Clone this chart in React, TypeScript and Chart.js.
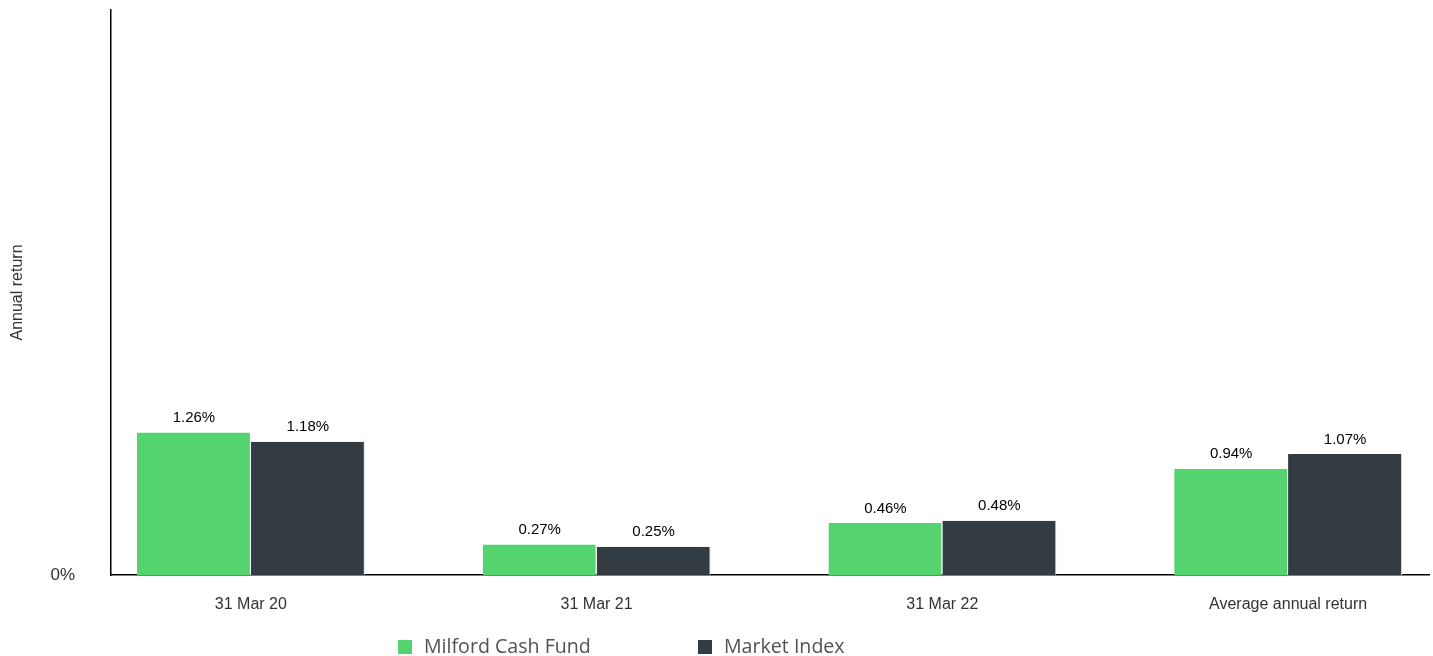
import React, { useEffect, useRef } from "react";
import { Chart, registerables } from "chart.js";

Chart.register(...registerables);

const categories = ["31 Mar 20", "31 Mar 21", "31 Mar 22", "Average annual return"];
const fundLabel = "Milford Cash Fund";
const indexLabel = "Market Index";
const fundValues = [1.26, 0.27, 0.46, 0.94];
const indexValues = [1.18, 0.25, 0.48, 1.07];
const yTickValues = [0];

const GREEN = "#55d36f";
const DARK = "#323c42";

const valueLabelPlugin = {
  id: "valueLabels",
  afterDatasetsDraw(chart: any) {
    const ctx = chart.ctx;
    ctx.save();
    ctx.font = "15px 'Liberation Sans', Arial, sans-serif";
    ctx.fillStyle = "#000";
    ctx.textAlign = "center";
    ctx.textBaseline = "bottom";
    chart.data.datasets.forEach((ds: any, di: number) => {
      const meta = chart.getDatasetMeta(di);
      meta.data.forEach((bar: any, i: number) => {
        const v = ds.data[i].y;
        ctx.fillText(v.toFixed(2) + "%", bar.x, bar.y - 7);
      });
    });
    ctx.restore();
  },
};

const customLegendPlugin = {
  id: "customLegend",
  afterDraw(chart: any) {
    const ctx = chart.ctx;
    ctx.save();
    const starts = [398, 698];
    const y = 647;
    ctx.font = "19.6px 'Open Sans', sans-serif";
    ctx.textBaseline = "middle";
    ctx.textAlign = "left";
    chart.data.datasets.forEach((ds: any, i: number) => {
      const x = starts[i];
      ctx.fillStyle = ds.backgroundColor;
      ctx.fillRect(x, y - 7, 14, 14);
      ctx.fillStyle = "#4d5459";
      ctx.fillText(ds.label, x + 26, y);
    });
    ctx.restore();
  },
};

export default function App() {
  const ref = useRef<HTMLCanvasElement | null>(null);

  useEffect(() => {
    if (!ref.current) return;
    const chart = new Chart(ref.current, {
      type: "bar",
      data: {
        datasets: [
          {
            label: fundLabel,
            data: fundValues.map((v, i) => ({ x: i, y: v })),
            backgroundColor: GREEN,
            borderColor: "#ffffff",
            borderWidth: { right: 1 },
            borderSkipped: false,
            categoryPercentage: 0.659,
            barPercentage: 1.0,
          },
          {
            label: indexLabel,
            data: indexValues.map((v, i) => ({ x: i, y: v })),
            backgroundColor: DARK,
            borderColor: "#d7dadc",
            borderWidth: { right: 1 },
            borderSkipped: false,
            categoryPercentage: 0.659,
            barPercentage: 1.0,
          },
        ],
      },
      options: {
        animation: false,
        responsive: true,
        maintainAspectRatio: false,
        layout: { padding: { top: 10, right: 4, bottom: 0, left: 0 } },
        plugins: {
          legend: { display: false },
          tooltip: { enabled: false },
        },
        scales: {
          x: {
            type: "linear",
            offset: false,
            min: -0.4046,
            max: 3.4075,
            grid: { display: false, drawTicks: false },
            border: { display: true, color: "#000", width: 1.5 },
            afterBuildTicks: (scale: any) => {
              scale.ticks = categories.map((_, i) => ({ value: i }));
            },
            afterFit: (scale: any) => {
              scale.height = 81;
            },
            ticks: {
              padding: 20,
              maxRotation: 0,
              autoSkip: false,
              color: "#333",
              font: { family: "'Liberation Sans', Arial, sans-serif", size: 16 },
              callback: (v: any) => categories[v] ?? "",
            },
          },
          y: {
            min: 0,
            max: 5,
            grid: { display: false, drawTicks: false },
            border: { display: true, color: "#000", width: 1.5 },
            afterBuildTicks: (scale: any) => {
              scale.ticks = yTickValues.map((v) => ({ value: v }));
            },
            afterFit: (scale: any) => {
              scale.width = 111;
              scale.paddingTop = 0;
              scale.paddingBottom = 0;
            },
            ticks: {
              padding: 36,
              color: "#333",
              font: { family: "'Liberation Sans', Arial, sans-serif", size: 17 },
              callback: (v: any) => v + "%",
            },
            title: {
              display: true,
              text: "Annual return",
              color: "#333",
              padding: { top: 8, bottom: 0 },
              font: { family: "'Liberation Sans', Arial, sans-serif", size: 16 },
            },
          },
        },
      },
      plugins: [valueLabelPlugin, customLegendPlugin],
    } as any);
    return () => chart.destroy();
  }, []);

  return (
    <div style={{ position: "fixed", left: 0, top: 0, width: 1433, height: 656, background: "#fff" }}>
      <canvas ref={ref} />
    </div>
  );
}
